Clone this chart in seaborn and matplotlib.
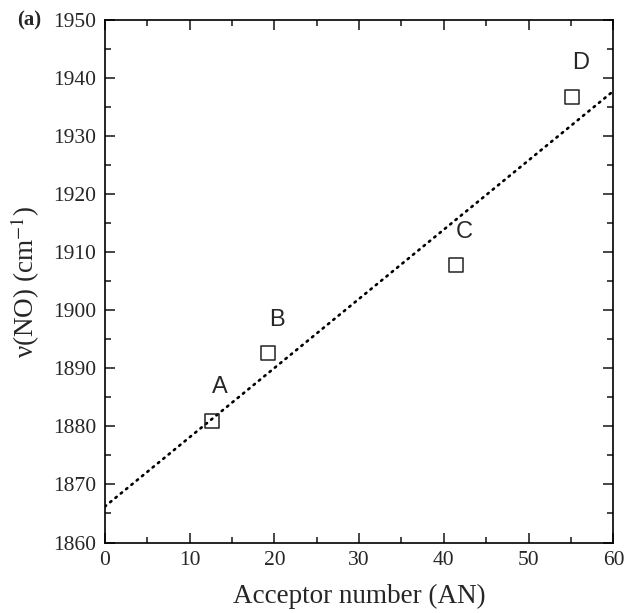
import numpy as np
import pandas as pd
import seaborn as sns
import matplotlib.pyplot as plt
from matplotlib.ticker import MultipleLocator

# data
labels = ['A', 'B', 'C', 'D']
acceptor_number = [12.6, 19.3, 41.4, 55.1]
nu_no = [1881.0, 1892.6, 1907.8, 1936.8]

# dotted fit line endpoints
fit_x = [0, 60]
fit_y = [1866.2, 1937.8]

sns.set_style('ticks')
plt.rcParams['font.family'] = ['Liberation Serif', 'DejaVu Serif']
plt.rcParams['mathtext.fontset'] = 'stix'

df = pd.DataFrame({'AN': acceptor_number, 'nu': nu_no, 'label': labels})
fit = pd.DataFrame({'AN': fit_x, 'nu': fit_y})

fig = plt.figure(figsize=(6.24, 6.13), dpi=100)
ax = fig.add_axes([0.168, 0.115, 0.815, 0.852])

sns.lineplot(data=fit, x='AN', y='nu', ax=ax, color='black', lw=1.9)
ax.lines[0].set_dashes((0.6, 2.0))
ax.lines[0].set_dash_capstyle('round')

sns.scatterplot(data=df, x='AN', y='nu', ax=ax, marker='s', s=100,
                facecolor='none', edgecolor='#222222', linewidth=1.1, zorder=3)

for _, r in df.iterrows():
    ax.annotate(r['label'], (r['AN'], r['nu']), xytext=(6, 24),
                textcoords='offset points', ha='center', va='center',
                fontsize=17, family=['Liberation Sans', 'DejaVu Sans'])

ax.set_xlim(0, 60)
ax.set_ylim(1860, 1950)
ax.xaxis.set_major_locator(MultipleLocator(10))
ax.xaxis.set_minor_locator(MultipleLocator(5))
ax.yaxis.set_major_locator(MultipleLocator(10))
ax.yaxis.set_minor_locator(MultipleLocator(5))
ax.tick_params(which='both', direction='in', top=True, right=True,
               width=1.2, labelsize=15.5, pad=6)
ax.tick_params(which='major', length=7)
ax.tick_params(which='minor', length=4)
for s in ax.spines.values():
    s.set_linewidth(1.2)
    s.set_color('black')

ax.set_xlabel('Acceptor number (AN)', fontsize=19.5, labelpad=10)
ax.set_ylabel(r'ν(NO) (cm$^{-1}$)', fontsize=19.5, labelpad=8)

fig.text(0.028, 0.967, '(a)', fontsize=15, fontweight='bold', va='center')

fig.savefig('out.png', dpi=100)
